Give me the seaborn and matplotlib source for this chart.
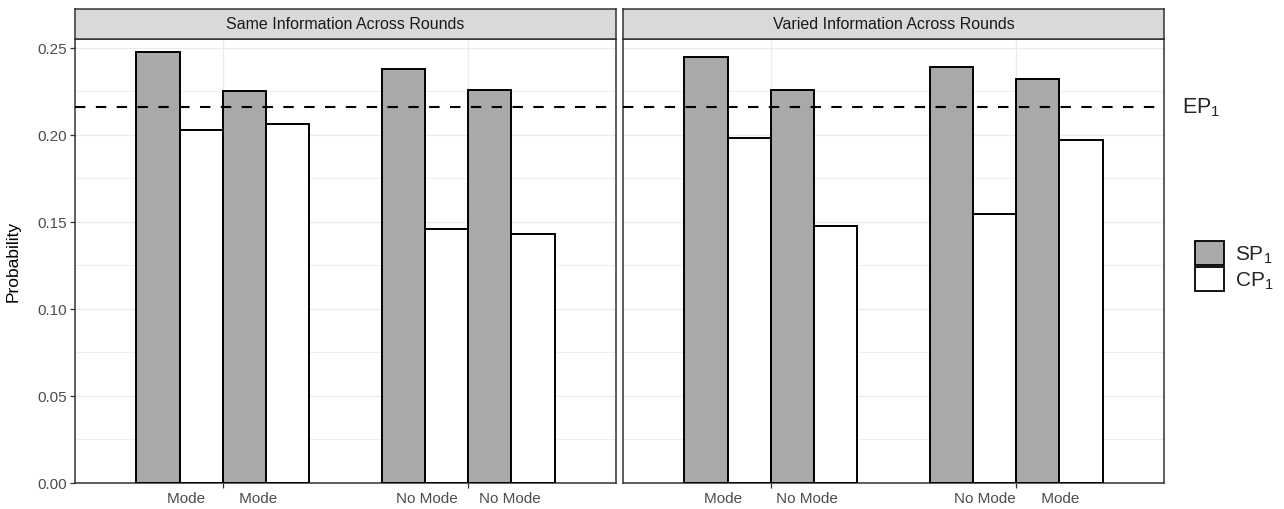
import numpy as np
import pandas as pd
import matplotlib
matplotlib.use("Agg")
import matplotlib.pyplot as plt
import matplotlib.transforms as mtransforms
from matplotlib.patches import Patch
from matplotlib.ticker import MultipleLocator
import seaborn as sns

# ---------------- data ----------------
panels = ["Same Information Across Rounds", "Varied Information Across Rounds"]
sp_same = [0.2475, 0.2250, 0.2377, 0.2258]
cp_same = [0.2028, 0.2063, 0.1458, 0.1426]
sp_varied = [0.2444, 0.2256, 0.2391, 0.2320]
cp_varied = [0.1982, 0.1474, 0.1546, 0.1970]
ep1 = 0.2158
ticklabels_same = ["Mode        Mode", "No Mode     No Mode"]
ticklabels_varied = ["Mode        No Mode", "No Mode      Mode"]
legend_labels = [r"$\mathregular{SP_1}$", r"$\mathregular{CP_1}$"]
ep_label = r"$\mathregular{EP_1}$"

sns.set_style("white")
plt.rcParams["font.family"] = ["Liberation Sans", "DejaVu Sans"]
plt.rcParams["mathtext.fontset"] = "custom"
plt.rcParams["mathtext.rm"] = "Liberation Sans"

SP_COL = "#A9A9A9"
CP_COL = "#FFFFFF"
slots = ["a_SP", "a_CP", "b_SP", "b_CP"]
palette = {"a_SP": SP_COL, "a_CP": CP_COL, "b_SP": SP_COL, "b_CP": CP_COL}


def build(sp, cp):
    rows = []
    for g in range(2):
        for s, pre in enumerate(["a", "b"]):
            i = 2 * g + s
            rows.append({"group": f"G{g}", "slot": f"{pre}_SP", "value": sp[i]})
            rows.append({"group": f"G{g}", "slot": f"{pre}_CP", "value": cp[i]})
    return pd.DataFrame(rows)


dfs = [build(sp_same, cp_same), build(sp_varied, cp_varied)]
ticklabels = [ticklabels_same, ticklabels_varied]

W, H = 1284, 510
fig = plt.figure(figsize=(W / 100, H / 100), dpi=100)

panel_left = [75, 623]
panel_w = 541
panel_top = 40
panel_bot = 483.5
strip_top = 10

axes = []
for k in range(2):
    ax = fig.add_axes([panel_left[k] / W, 1 - panel_bot / H, panel_w / W,
                       (panel_bot - panel_top) / H])
    sns.barplot(data=dfs[k], x="group", y="value", hue="slot", hue_order=slots,
                palette=palette, width=0.7, gap=0, dodge=True, errorbar=None,
                edgecolor="black", linewidth=1.4, legend=False, ax=ax, zorder=3)
    ax.set_xlim(-0.6, 1.6)
    ax.set_ylim(0, 0.255)
    ax.axhline(ep1, color="black", linestyle=(0, (5, 5)), linewidth=1.5, zorder=4)
    ax.set_axisbelow(True)
    ax.yaxis.set_major_locator(MultipleLocator(0.05))
    ax.yaxis.set_minor_locator(MultipleLocator(0.025))
    ax.grid(which="major", color="#EBEBEB", linewidth=1.0, zorder=0)
    ax.grid(which="minor", axis="y", color="#EBEBEB", linewidth=0.6, zorder=0)
    ax.set_xticks([0, 1])
    ax.set_xticklabels(ticklabels[k], fontsize=11, color="#4D4D4D")
    ax.set_xlabel("")
    ax.tick_params(axis="both", which="major", length=3.5, width=0.9,
                   color="#333333", pad=2.5, direction="out")
    ax.tick_params(which="minor", length=0)
    if k == 0:
        ax.set_yticks([0, 0.05, 0.10, 0.15, 0.20, 0.25])
        ax.set_yticklabels(["0.00", "0.05", "0.10", "0.15", "0.20", "0.25"],
                           fontsize=11, color="#4D4D4D")
        ax.set_ylabel("Probability", fontsize=12.5, color="black")
        ax.tick_params(axis="y", left=True)
    else:
        ax.set_ylabel("")
        ax.tick_params(axis="y", left=False, labelleft=False)
    ax.tick_params(axis="x", bottom=True)
    for sp in ax.spines.values():
        sp.set_visible(True)
        sp.set_color("#333333")
        sp.set_linewidth(1.1)
    axes.append(ax)

    # strip
    sax = fig.add_axes([panel_left[k] / W, 1 - panel_top / H, panel_w / W,
                        (panel_top - strip_top) / H])
    sax.set_facecolor("#D9D9D9")
    sax.set_xticks([])
    sax.set_yticks([])
    for sp in sax.spines.values():
        sp.set_visible(True)
        sp.set_color("#333333")
        sp.set_linewidth(1.1)
    sax.text(0.5, 0.5, panels[k], ha="center", va="center", fontsize=11.5,
             color="#1A1A1A", transform=sax.transAxes)

axes[0].yaxis.set_label_coords(-0.1, 0.5)

# EP label
trans = mtransforms.blended_transform_factory(fig.transFigure, axes[1].transData)
axes[1].text(1182 / W, ep1, ep_label, transform=trans, fontsize=15.5,
             ha="left", va="center", clip_on=False)

# legend
handles = [Patch(facecolor=SP_COL, edgecolor="black", linewidth=1.3),
           Patch(facecolor=CP_COL, edgecolor="black", linewidth=1.3)]
fig.legend(handles, legend_labels, loc="center left",
           bbox_to_anchor=(1195 / W, 1 - 267 / H), frameon=False, fontsize=15,
           handlelength=1.4, handleheight=1.4, labelspacing=0.1,
           handletextpad=0.5, borderpad=0, borderaxespad=0)

fig.savefig("out.png", dpi=100)
